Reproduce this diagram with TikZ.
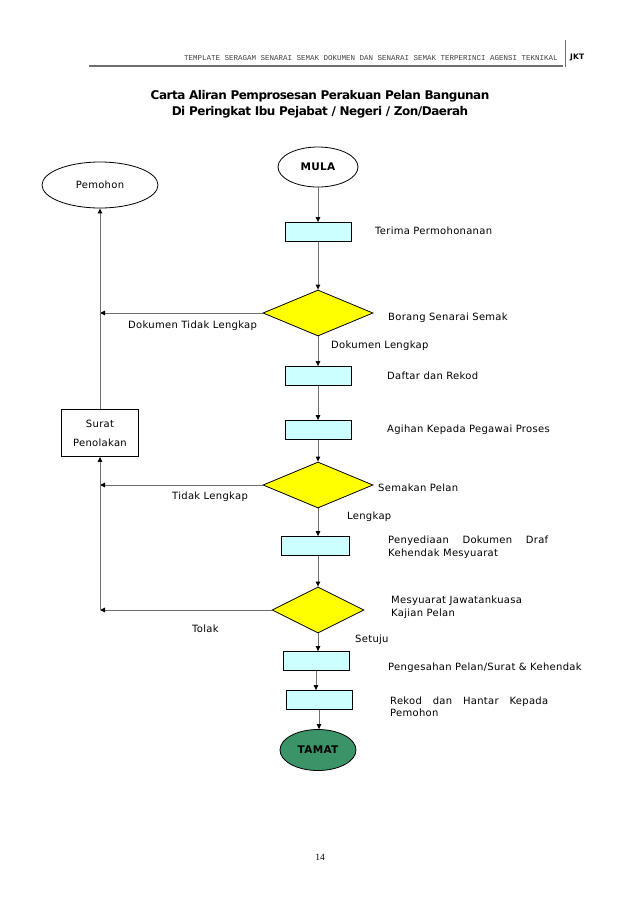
\documentclass[tikz,border=0pt]{standalone}
\usepackage{fontspec}
\setmainfont[LetterSpace=3]{DejaVu Sans}
\newfontfamily\titlefont[LetterSpace=-4]{DejaVu Sans}
\newfontfamily\hdfont{Liberation Mono}
\newfontfamily\pgfont{Liberation Serif}
\usetikzlibrary{positioning,arrows.meta,shapes.geometric}
\definecolor{boxfill}{HTML}{CCFFFF}
\definecolor{decfill}{HTML}{FFFF00}
\definecolor{endfill}{HTML}{3A9468}
\definecolor{linegray}{HTML}{6E6E6E}

\begin{document}
\begin{tikzpicture}[x=1pt,y=-1pt,
      lbl/.style={font=\fontsize{10}{12.5}\selectfont,anchor=west,inner sep=0pt},
      stepbox/.style={draw,line width=0.8pt,fill=boxfill,minimum width=66pt,minimum height=19pt,inner sep=0pt},
      decide/.style={diamond,draw,line width=0.8pt,fill=decfill,minimum width=110pt,minimum height=46pt,inner sep=0pt},
      term/.style={ellipse,draw,line width=0.8pt,inner sep=0pt,font=\fontsize{10.5}{12}\selectfont\bfseries},
      flow/.style={draw=linegray,line width=1pt,-{Triangle[black,length=5pt,width=4.5pt]}}]
    \useasboundingbox[fill=white] (0,0) rectangle (638,903);
    % header
    \draw[linegray,line width=2pt] (89,66) -- (563,66);
    \draw[linegray,line width=1pt] (565,40) -- (565,67);
    \node[anchor=east,inner sep=0pt,text=black!75,font=\hdfont\fontsize{7.5}{8}\selectfont] (hd) at (558,58)
      {TEMPLATE SERAGAM SENARAI SEMAK DOKUMEN DAN SENARAI SEMAK TERPERINCI AGENSI TEKNIKAL};
    \node[anchor=west,inner sep=0pt,font=\fontsize{7.5}{8}\selectfont\bfseries] (jkt) at (570,58) {JKT};
    \node[align=center,font=\titlefont\fontsize{12}{16}\selectfont\bfseries] (title) at (320,104)
      {Carta Aliran Pemprosesan Perakuan Pelan Bangunan\\Di Peringkat Ibu Pejabat / Negeri / Zon/Daerah};
    % nodes
    \node[term,minimum width=80pt,minimum height=40pt] (mula) at (318,167) {MULA};
    \node[ellipse,draw,line width=0.8pt,minimum width=116pt,minimum height=46pt,inner sep=0pt,font=\fontsize{10}{12}\selectfont] (pemohon) at (100,185) {Pemohon};
    \node[stepbox] (terima) at (318,232) {};
    \node[decide] (d1) at (318,313) {};
    \node[stepbox] (daftar) at (318,376) {};
    \node[stepbox] (agihan) at (318,430) {};
    \node[draw,line width=0.8pt,minimum width=77pt,minimum height=47pt,inner sep=0pt,align=center,font=\fontsize{10}{19}\selectfont] (surat) at (100,433) {Surat\\Penolakan};
    \node[decide] (d2) at (318,485) {};
    \node[stepbox,minimum width=68pt] (pen) at (315,546) {};
    \node[decide,minimum width=92pt] (d3) at (318,610) {};
    \node[stepbox] (sah) at (316,661) {};
    \node[stepbox] (rekod) at (319,700) {};
    \node[term,fill=endfill,minimum width=76pt,minimum height=41pt] (tamat) at (318,750) {TAMAT};
    % labels
    \node[lbl] (l1) at (375,231) {Terima Permohonanan};
    \node[lbl] (l2) at (388,318) {Borang Senarai Semak};
    \node[lbl] (l3) at (128,326) {Dokumen Tidak Lengkap};
    \node[lbl] (l4) at (331,346) {Dokumen Lengkap};
    \node[lbl] (l5) at (387,376) {Daftar dan Rekod};
    \node[lbl] (l6) at (387,430) {Agihan Kepada Pegawai Proses};
    \node[lbl] (l7) at (378,488) {Semakan Pelan};
    \node[lbl] (l8) at (172,497) {Tidak Lengkap};
    \node[lbl] (l9) at (347,517) {Lengkap};
    \node[lbl,align=left] (l10) at (388,547) {\makebox[160pt][s]{Penyediaan Dokumen Draf}\\Kehendak Mesyuarat};
    \node[lbl,align=left] (l11) at (391,607) {Mesyuarat Jawatankuasa\\ Kajian Pelan};
    \node[lbl] (l12) at (192,629) {Tolak};
    \node[lbl] (l13) at (355,640) {Setuju};
    \node[lbl] (l14) at (388,668) {Pengesahan Pelan/Surat \& Kehendak};
    \node[lbl,align=left] (l15) at (390,707) {\makebox[158pt][s]{Rekod dan Hantar Kepada}\\Pemohon};
    \node[inner sep=0pt,font=\pgfont\fontsize{9.5}{10}\selectfont] (pg) at (320,857) {14};
    % main flow
    \draw[flow] (mula) -- (terima);
    \draw[flow] (terima) -- (d1);
    \draw[flow] (d1) -- (daftar);
    \draw[flow] (daftar) -- (agihan);
    \draw[flow] (agihan) -- (d2);
    \draw[flow] (d2.south) -- (d2.south |- pen.north);
    \draw[flow] (d2.south |- pen.south) -- (d3.north);
    \draw[flow] (d3.south) -- (d3.south |- sah.north);
    \draw[flow] (sah.south) -- (sah.south |- rekod.north);
    \draw[flow] (rekod.south) -- (rekod.south |- tamat.north);
    % return path
    \coordinate (r1) at (d1 -| surat);
    \coordinate (r2) at (d2 -| surat);
    \coordinate (r3) at (d3 -| surat);
    \draw[flow] (d1.west) -- (r1);
    \draw[flow] (d2.west) -- (r2);
    \draw[flow] (d3.west) -- (r3);
    \draw[flow] (r3) -- (surat.south);
    \draw[flow] (surat.north) -- (pemohon.south);
  \end{tikzpicture}
\end{document}
